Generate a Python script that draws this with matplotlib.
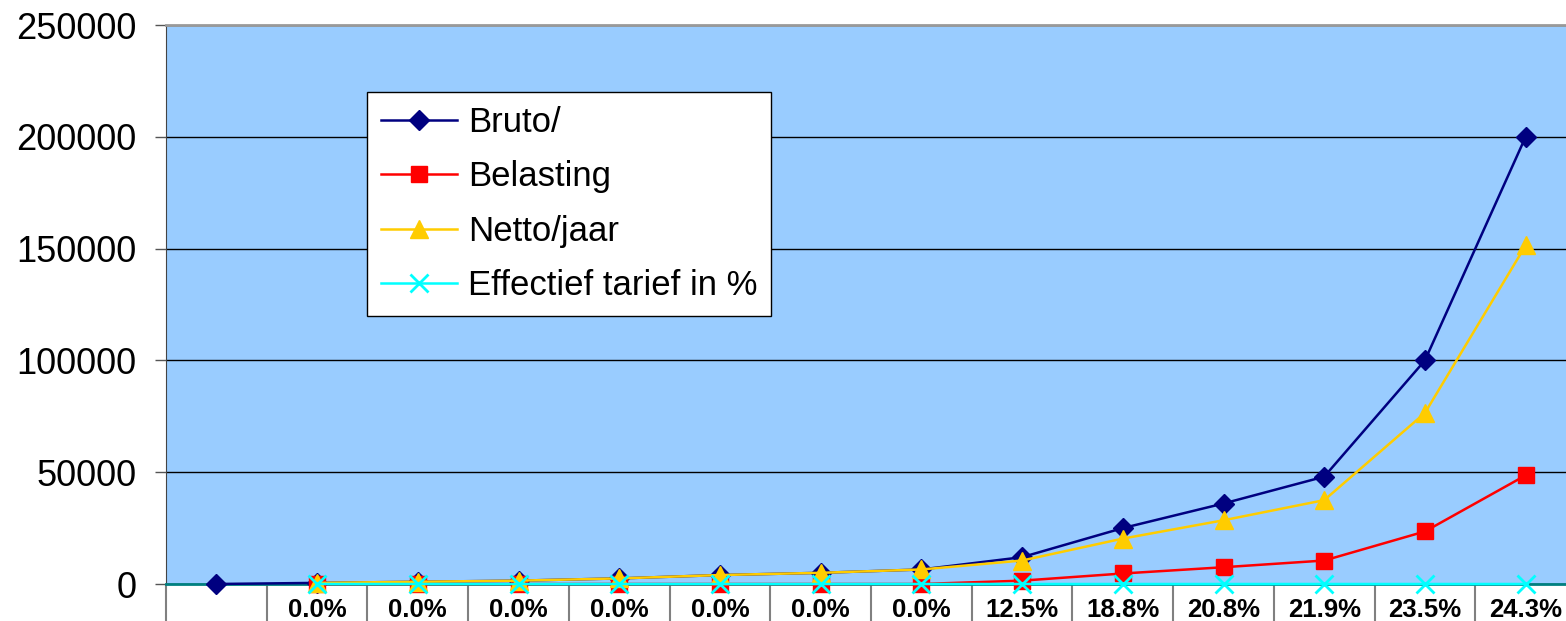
import matplotlib.pyplot as plt
import numpy as np

# data
bruto = [0, 500, 1000, 1500, 2500, 4000, 5000, 6500, 12000, 25000, 36000, 48000, 100000, 200000]
belasting = [np.nan, 0, 0, 0, 0, 0, 0, 0, 1500, 4700, 7500, 10500, 23500, 48600]
netto = [np.nan, 500, 1000, 1500, 2500, 4000, 5000, 6500, 10500, 20300, 28500, 37500, 76500, 151400]
effectief = [np.nan, 0.0, 0.0, 0.0, 0.0, 0.0, 0.0, 0.0, 0.125, 0.188, 0.208, 0.219, 0.235, 0.243]
labels = [""] + ["%.1f%%" % (v * 100) for v in effectief[1:]]
yticks = [0, 50000, 100000, 150000, 200000, 250000]

plt.rcParams["font.family"] = ["Liberation Sans", "DejaVu Sans"]

fig = plt.figure(figsize=(15.66, 6.21), dpi=100)
# plot area runs past the right edge of the picture, as in the reference
ax = fig.add_axes([166 / 1566, 37 / 621, 1410 / 1566, 559 / 621])
ax.set_facecolor("#99CCFF")

x = np.arange(len(bruto))
ax.plot(x, bruto, color="#000080", lw=1.8, marker="D", ms=10, label="Bruto/", clip_on=False, zorder=3)
ax.plot(x, belasting, color="#FF0000", lw=1.8, marker="s", ms=12, label="Belasting", clip_on=False, zorder=4)
ax.plot(x, netto, color="#FFCC00", lw=1.8, marker="^", ms=13, label="Netto/jaar", clip_on=False, zorder=5)
ax.plot(x, effectief, color="#00FFFF", lw=1.8, marker="x", ms=13, mew=2, label="Effectief tarief in %",
        clip_on=False, zorder=6)

ax.set_xlim(-0.5, len(bruto) - 0.5)
ax.set_ylim(0, 250000)
ax.set_yticks(yticks)
ax.set_yticklabels([str(v) for v in yticks], fontsize=26)
ax.yaxis.grid(True, color="black", lw=1)
ax.set_axisbelow(True)
ax.tick_params(axis="y", length=8, width=1, color="#555555", pad=13)

ax.set_xticks(x)
ax.set_xticklabels(labels, fontsize=18.5, fontweight="bold")
ax.set_xticks(np.arange(-0.5, len(bruto) - 0.5, 1.0), minor=True)
ax.tick_params(axis="x", which="major", length=0, pad=10)
ax.tick_params(axis="x", which="minor", length=40, width=1.5, color="#808080")

ax.spines["top"].set_color("#999999")
ax.spines["top"].set_linewidth(2)
ax.spines["right"].set_visible(False)
ax.spines["left"].set_color("#444444")
ax.spines["bottom"].set_color("#008080")
ax.spines["bottom"].set_linewidth(2)

leg = ax.legend(loc="upper left", bbox_to_anchor=((367 - 166) / 1410, (584 - 92) / 559),
                borderaxespad=0, fontsize=25, fancybox=False, framealpha=1, edgecolor="black",
                handlelength=2.2, handletextpad=0.3, labelspacing=0.62, borderpad=0.4)
leg.get_frame().set_linewidth(1)

fig.savefig("out.png", dpi=100)
